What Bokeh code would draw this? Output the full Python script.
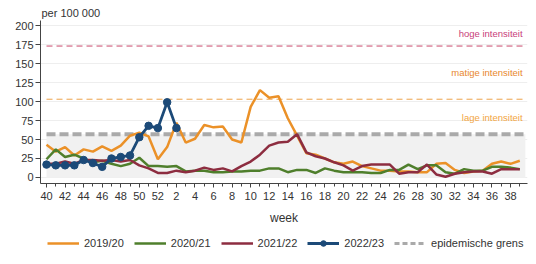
from bokeh.plotting import figure
from bokeh.models import FixedTicker, Legend, LegendItem
from bokeh.layouts import column
from bokeh.core.properties import value
from bokeh.embed import file_html
from bokeh.resources import INLINE

# ---- data ----
weeks = list(range(40, 53)) + list(range(1, 40))
s2019 = [43, 34, 40, 29, 37, 34, 41, 35, 42, 55, 59, 54, 24, 40, 72, 46, 51, 69, 66, 67,
         50, 46, 93, 115, 105, 107, 78, 55, 32, 30, 25, 20, 18, 21, 15, 12, 9, 9, 8, 8,
         7, 7, 18, 19, 10, 6, 8, 9, 18, 21, 18, 22]
s2020 = [24, 37, 27, 30, 25, 20, 22, 18, 15, 18, 26, 15, 15, 14, 15, 8, 9, 9, 7, 7,
         8, 8, 9, 9, 12, 12, 7, 10, 10, 6, 12, 9, 7, 7, 7, 6, 6, 10, 10, 17,
         11, 16, 16, 7, 5, 11, 9, 9, 14, 14, 13, 11]
s2021 = [18, 18, 21, 18, 23, 23, 22, 23, 21, 23, 16, 12, 6, 6, 9, 7, 9, 13, 10, 12,
         8, 15, 21, 30, 42, 46, 47, 57, 33, 28, 25, 20, 16, 9, 15, 17, 17, 17, 5, 7,
         7, 17, 4, 1, 5, 7, 8, 8, 5, 11, 11, 11]
s2022 = [17, 16, 16, 16, 23, 19, 14, 25, 27, 29, 53, 68, 65, 99, 65]
thresholds = {"epidemisch": 57, "matig": 103, "hoog": 173}
y_ticks = [0, 25, 50, 75, 100, 125, 150, 175, 200]
season_labels = ["2019/20", "2020/21", "2021/22", "2022/23", "epidemische grens"]

xs = list(range(len(weeks)))
x_end = xs[-1] + 0.6

FONT = "Liberation Sans"
C19, C20, C21, C22, CGR = "#eb9128", "#4f7f2c", "#8d2d40", "#1c4a78", "#aaaaaa"

p = figure(width=536, height=232, output_backend="svg", toolbar_location=None,
           x_range=(-0.647, 51.83), y_range=(-7.9, 206.6),
           min_border_left=40, min_border_right=9, min_border_top=20, min_border_bottom=49)
p.outline_line_color = None
p.background_fill_color = "white"

p.title.text = "per 100 000"
p.title.text_font = FONT
p.title.text_font_size = "11px"
p.title.text_font_style = "normal"
p.title.text_color = "#333333"
p.title.align = "left"
p.title.offset = 1
p.title.standoff = 4

# grid
p.xgrid.grid_line_color = None
p.ygrid.grid_line_color = "#eeeeee"
p.ygrid.grid_line_width = 1

# shaded area below epidemic threshold
p.quad(left=[xs[0]], right=[x_end], bottom=[0], top=[thresholds["epidemisch"]],
       fill_color="#f1f1f1", line_color=None)

# threshold lines
p.segment(x0=[xs[0]], x1=[x_end], y0=[thresholds["hoog"]], y1=[thresholds["hoog"]],
          line_color="#c8476a", line_width=1, line_dash="6 4")
p.segment(x0=[xs[0]], x1=[x_end], y0=[thresholds["matig"]], y1=[thresholds["matig"]],
          line_color="#eea24a", line_width=1, line_dash="6 4")
p.segment(x0=[xs[0]], x1=[x_end], y0=[thresholds["epidemisch"]], y1=[thresholds["epidemisch"]],
          line_color=CGR, line_width=4, line_dash="9 4")

# threshold labels
p.text(x=[51.3], y=[189], text=["hoge intensiteit"], text_align="right", text_baseline="middle",
       text_font=value(FONT), text_font_size="9.5px", text_color="#c8407a")
p.text(x=[51.3], y=[138], text=["matige intensiteit"], text_align="right", text_baseline="middle",
       text_font=value(FONT), text_font_size="9.5px", text_color="#e8872e")
p.text(x=[51.3], y=[79], text=["lage intensiteit"], text_align="right", text_baseline="middle",
       text_font=value(FONT), text_font_size="9.5px", text_color="#f2a542")

# series
p.line(xs, s2019, line_color=C19, line_width=2.5)
p.line(xs, s2020, line_color=C20, line_width=2.5)
p.line(xs, s2021, line_color=C21, line_width=2.5)
p.line(xs[:len(s2022)], s2022, line_color=C22, line_width=2.8)
p.scatter(xs[:len(s2022)], s2022, size=7.5, fill_color=C22, line_color=C22)

# axes
major = xs[::2][:26]
p.xaxis.ticker = FixedTicker(ticks=major, minor_ticks=xs)
p.xaxis.major_label_overrides = {i: str(weeks[i]) for i in major}
p.yaxis.ticker = FixedTicker(ticks=y_ticks)
for ax in (p.xaxis[0], p.yaxis[0]):
    ax.axis_line_color = "#444444"
    ax.major_tick_line_color = "#444444"
    ax.minor_tick_line_color = "#444444"
    ax.major_tick_in = 0
    ax.minor_tick_in = 0
    ax.major_label_text_font = FONT
    ax.major_label_text_font_size = "11px"
    ax.major_label_text_color = "#333333"
p.xaxis.major_tick_out = 4
p.xaxis.minor_tick_out = 3
p.xaxis.major_label_standoff = 4
p.yaxis.major_tick_out = 5
p.yaxis.minor_tick_line_color = None
p.yaxis.major_label_standoff = 2
p.xaxis.axis_label = "week"
p.xaxis.axis_label_text_font = FONT
p.xaxis.axis_label_text_font_size = "12px"
p.xaxis.axis_label_text_font_style = "normal"
p.xaxis.axis_label_text_color = "#333333"
p.xaxis.axis_label_standoff = 8

# ---- legend strip (separate figure; proxy renderers lie outside its visible range) ----
lg = figure(width=536, height=32, output_backend="svg", toolbar_location=None,
            x_axis_type=None, y_axis_type=None, x_range=(0, 1), y_range=(-1000, -999),
            min_border=0, min_border_left=0, min_border_right=0,
            min_border_top=0, min_border_bottom=0)
lg.outline_line_color = None
lg.xgrid.grid_line_color = None
lg.ygrid.grid_line_color = None
g19 = lg.line(xs, s2019, line_color=C19, line_width=2.5)
g20 = lg.line(xs, s2020, line_color=C20, line_width=2.5)
g21 = lg.line(xs, s2021, line_color=C21, line_width=2.5)
g22 = lg.line(xs[:len(s2022)], s2022, line_color=C22, line_width=2.8)
g22m = lg.scatter(xs[:len(s2022)], s2022, size=6, fill_color=C22, line_color=C22)
ggr = lg.line(xs, [thresholds["epidemisch"]] * len(xs), line_color=CGR, line_width=3,
              line_dash="5 3")

legend = Legend(items=[
    LegendItem(label=season_labels[0], renderers=[g19]),
    LegendItem(label=season_labels[1], renderers=[g20]),
    LegendItem(label=season_labels[2], renderers=[g21]),
    LegendItem(label=season_labels[3], renderers=[g22, g22m]),
    LegendItem(label=season_labels[4], renderers=[ggr]),
], orientation="horizontal", location=(7, 14))
legend.label_text_font = FONT
legend.label_text_font_size = "11px"
legend.label_text_color = "#333333"
legend.glyph_width = 32
legend.glyph_height = 14
legend.label_standoff = 5
legend.spacing = 10
legend.padding = 0
legend.margin = 0
legend.border_line_color = None
legend.background_fill_alpha = 0
lg.add_layout(legend, "center")

layout = column(p, lg, spacing=0)
open("out.html", "w").write(file_html(layout, INLINE))
